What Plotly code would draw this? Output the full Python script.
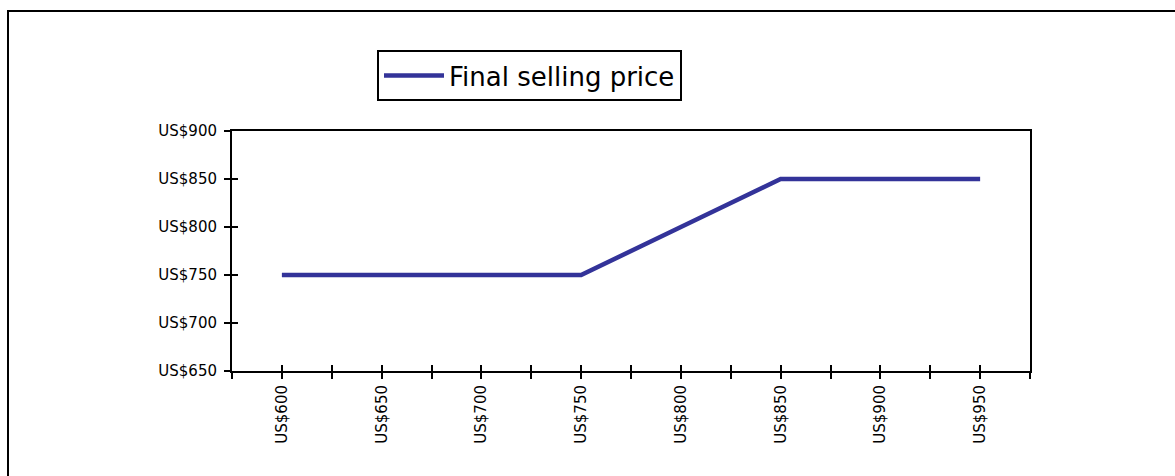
import plotly.graph_objects as go

prices = ["US$600", "US$650", "US$700", "US$750", "US$800", "US$850", "US$900", "US$950"]
final_selling_price = [750, 750, 750, 750, 800, 850, 850, 850]
y_ticks = [650, 700, 750, 800, 850, 900]
y_tick_labels = ["US$650", "US$700", "US$750", "US$800", "US$850", "US$900"]

n = len(prices)
xpos = list(range(n))
tick_pos = [i / 2 - 0.5 for i in range(2 * n + 1)]
tick_txt = [prices[int(t)] if float(t).is_integer() and 0 <= t < n else "" for t in tick_pos]

FONT = "DejaVu Sans, Verdana, sans-serif"
L, R, T, B = 232, 145, 131, 105
W, H = 1175, 476

fig = go.Figure()
fig.add_trace(go.Scatter(
    x=xpos, y=final_selling_price, mode="lines", name="Final selling price",
    line=dict(color="#333399", width=4.5),
))
# helper trace so overlay axes (inner halves of crossing ticks) render
fig.add_trace(go.Scatter(x=[None], y=[None], xaxis="x2", yaxis="y2",
                         showlegend=False, hoverinfo="skip"))

xr = [-0.5, n - 0.5]
yr = [650, 900]
pw = W - L - R
ph = H - T - B

fig.update_layout(
    width=W, height=H,
    margin=dict(l=L, r=R, t=T, b=B),
    paper_bgcolor="white", plot_bgcolor="white",
    font=dict(family=FONT, color="black", size=15),
    showlegend=True,
    legend=dict(
        x=(377 - L) / pw, y=(H - B - 50) / ph, xanchor="left", yanchor="top",
        bordercolor="black", borderwidth=2, bgcolor="white",
        font=dict(size=26, family=FONT),
        itemwidth=60, tracegroupgap=0,
    ),
    xaxis=dict(
        range=xr, tickmode="array", tickvals=tick_pos, ticktext=tick_txt,
        tickangle=-90, ticks="outside", ticklen=6, tickwidth=2, tickcolor="black",
        showline=True, linecolor="black", linewidth=2, mirror=True,
        showgrid=False, zeroline=False, tickfont=dict(size=15),
    ),
    yaxis=dict(
        range=yr, tickmode="array", tickvals=y_ticks, ticktext=y_tick_labels,
        ticks="outside", ticklen=6, tickwidth=2, tickcolor="black",
        showline=True, linecolor="black", linewidth=2, mirror=True,
        showgrid=False, zeroline=False, tickfont=dict(size=15),
        ticklabelstandoff=4,
    ),
    xaxis2=dict(
        overlaying="x", range=xr, tickmode="array", tickvals=tick_pos,
        ticks="inside", ticklen=6, tickwidth=2, tickcolor="black",
        showticklabels=False, showline=False, showgrid=False, zeroline=False,
    ),
    yaxis2=dict(
        overlaying="y", range=yr, tickmode="array", tickvals=y_ticks,
        ticks="inside", ticklen=6, tickwidth=2, tickcolor="black", side="left",
        showticklabels=False, showline=False, showgrid=False, zeroline=False,
    ),
)

# outer chart-area frame
fig.add_shape(
    type="rect", xref="paper", yref="paper",
    x0=(8 - L) / pw, x1=(W + 10 - L) / pw,
    y0=(H - B - (H + 10)) / ph, y1=(H - B - 11) / ph,
    line=dict(color="black", width=2), fillcolor="rgba(0,0,0,0)", layer="below",
)

fig.write_html(
    "out.html",
    config={"displayModeBar": False},
    post_script="document.body.style.margin='0';document.body.style.padding='0';",
)
